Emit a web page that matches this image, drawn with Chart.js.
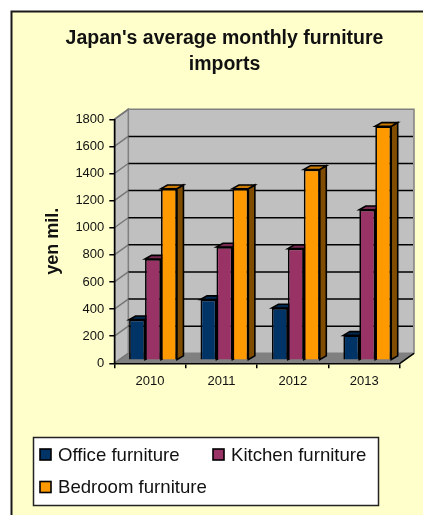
<!DOCTYPE html>
<html><head><meta charset="utf-8">
<style>html,body{margin:0;padding:0;background:#fff}#w{position:relative;width:423px;height:515px}canvas{display:block}</style>
<script src="https://cdn.jsdelivr.net/npm/chart.js@4"></script>
</head><body><div id="w"><canvas id="c" width="423" height="515"></canvas></div>
<script>
const categories = ['2010','2011','2012','2013'];
const office = [300,448,386,184];
const kitchen = [747,836,824,1111];
const bedroom = [1266,1266,1408,1726];
const titleLines = ["Japan's average monthly furniture","imports"];
const seriesNames = ['Office furniture','Kitchen furniture','Bedroom furniture'];
const fills = ['#003366','#993366','#FF9900'];
const tops = ['#002952','#7A2952','#CC7A00'];
const sides = ['#001A33','#4D1A33','#804D00'];
const DX=14, DY=-10, BX=3, BY=-3, SX=6.5, SY=-3.7;
const font='"Liberation Sans", Arial, sans-serif';
function poly(ctx,pts,fill,stroke,lw){
  ctx.beginPath();pts.forEach((p,i)=>i?ctx.lineTo(p[0],p[1]):ctx.moveTo(p[0],p[1]));ctx.closePath();
  if(fill){ctx.fillStyle=fill;ctx.fill();}
  if(stroke){ctx.strokeStyle=stroke;ctx.lineWidth=lw;ctx.stroke();}
}
const scene={
  id:'scene',
  beforeDraw(chart){
    const ctx=chart.ctx,a=chart.chartArea,y=chart.scales.y;
    ctx.save();
    ctx.fillStyle='#FFFFCC';ctx.fillRect(11.5,11.5,440,540);
    ctx.strokeStyle='#1a1a1a';ctx.lineWidth=2;ctx.strokeRect(11.5,11.5,440,540);
    const L=a.left,R=a.right,T=a.top,B=a.bottom;
    poly(ctx,[[L+DX,T+DY],[R+DX,T+DY],[R+DX,B+DY],[L+DX,B+DY]],'#C0C0C0','#808080',1.5);
    poly(ctx,[[L,T],[L+DX,T+DY],[L+DX,B+DY],[L,B]],'#C0C0C0','#808080',1.5);
    poly(ctx,[[L,B],[L+DX,B+DY],[R+DX,B+DY],[R,B]],'#808080');
    ctx.strokeStyle='#000';ctx.lineWidth=1.5;
    y.ticks.forEach(t=>{
      const py=y.getPixelForValue(t.value);
      if(t.value<1800 && t.value>0){
        ctx.beginPath();ctx.moveTo(L+DX,py+DY);ctx.lineTo(R+DX-1,py+DY);ctx.stroke();
      }
    });
    ctx.strokeStyle='#777';
    y.ticks.forEach(t=>{
      const py=y.getPixelForValue(t.value);
      ctx.beginPath();ctx.moveTo(L,py);ctx.lineTo(L+DX,py+DY);ctx.stroke();
    });
    ctx.strokeStyle='#000';
    ctx.beginPath();ctx.moveTo(R,B);ctx.lineTo(R+DX,B+DY);ctx.stroke();
    ctx.restore();
  },
  beforeDatasetsDraw(chart){
    const ctx=chart.ctx;
    ctx.save();ctx.translate(BX,BY);
    chart.getSortedVisibleDatasetMetas().forEach(meta=>{
      const i=meta.index;
      meta.data.forEach(b=>{
        const w=b.width/2,l=b.x-w,r=b.x+w,t=b.y,bt=b.base;
        poly(ctx,[[r,t],[r+SX,t+SY],[r+SX,bt+SY],[r,bt]],sides[i],'#000',1.6);
        poly(ctx,[[l,t],[l+SX,t+SY],[r+SX,t+SY],[r,t]],tops[i],'#000',1.6);
      });
    });
  },
  afterDatasetsDraw(chart){chart.ctx.restore();},
  afterDraw(chart){
    const ctx=chart.ctx;
    ctx.save();
    ctx.fillStyle='#fff';ctx.strokeStyle='#222';ctx.lineWidth=1.5;
    ctx.fillRect(33.5,437.5,345,68);ctx.strokeRect(33.5,437.5,345,68);
    const pos=[[40,454.5],[213,454.5],[40,487]];
    ctx.font='18.6px '+font;ctx.textBaseline='middle';ctx.textAlign='left';
    seriesNames.forEach((n,i)=>{
      const [x,y]=pos[i];
      ctx.fillStyle=fills[i];ctx.fillRect(x,y-5.5,11,11);
      ctx.strokeStyle='#000';ctx.lineWidth=1.6;ctx.strokeRect(x,y-5.5,11,11);
      ctx.fillStyle='#111';ctx.fillText(n,x+18,y+1);
    });
    ctx.restore();
  }
};
new Chart(document.getElementById('c'),{
  type:'bar',
  data:{labels:categories,datasets:[
    {label:seriesNames[0],data:office,backgroundColor:fills[0],borderColor:'#000',borderWidth:1.7},
    {label:seriesNames[1],data:kitchen,backgroundColor:fills[1],borderColor:'#000',borderWidth:1.7},
    {label:seriesNames[2],data:bedroom,backgroundColor:fills[2],borderColor:'#000',borderWidth:1.7}
  ]},
  plugins:[scene],
  options:{
    responsive:false,animation:false,
    layout:{padding:{left:26,right:0,top:0,bottom:0}},
    datasets:{bar:{categoryPercentage:0.67,barPercentage:1}},
    plugins:{
      legend:{display:false},tooltip:{enabled:false},
      title:{display:true,text:titleLines,color:'#111',font:{family:font,size:19.5,weight:'bold',lineHeight:1.333},padding:{top:26,bottom:41.3}}
    },
    scales:{
      x:{grid:{drawOnChartArea:false,drawTicks:true,tickLength:5,color:'#000',lineWidth:1.5},border:{color:'#000',width:1.5},
         ticks:{color:'#111',font:{family:font,size:13},padding:5,maxRotation:0},
         afterFit(s){s.height=151.7;}},
      y:{min:0,max:1800,grid:{drawOnChartArea:false,drawTicks:true,tickLength:5,color:'#000',lineWidth:1.5},border:{color:'#000',width:1.5},
         ticks:{stepSize:200,color:'#111',font:{family:font,size:13},padding:5,callback:v=>String(v)},
         title:{display:true,text:'yen mil.',color:'#111',font:{family:font,size:18,weight:'bold'},padding:{top:16,bottom:0}},
         afterFit(s){s.width=88.3;}},
      pad:{type:'linear',position:'right',display:true,grid:{display:false},border:{display:false},ticks:{display:false},afterFit(s){s.width=23;}}
    }
  }
});
</script></body></html>
